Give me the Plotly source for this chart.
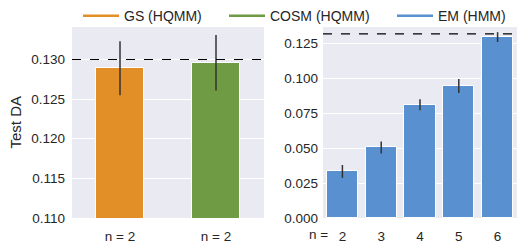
import plotly.graph_objects as go

# ---- data ----
left_labels = ["n = 2", "n = 2"]
left_methods = ["GS (HQMM)", "COSM (HQMM)"]
left_values = [0.1289, 0.1296]
left_errors = [0.0034, 0.0035]

right_labels = ["2", "3", "4", "5", "6"]
right_method = "EM (HMM)"
right_values = [0.0333, 0.0505, 0.0810, 0.0944, 0.1294]
right_errors = [0.0046, 0.0043, 0.0040, 0.0050, 0.0035]

reference_lines = [0.1300, 0.1317]  # dashed line per panel

left_ticks = [0.110, 0.115, 0.120, 0.125, 0.130]
right_ticks = [0.000, 0.025, 0.050, 0.075, 0.100, 0.125]

# ---- style ----
ORANGE = "#E28F28"
GREEN = "#709B45"
BLUE = "#5990D0"
BG = "#EAEAF2"
TXT = "#262626"
FONT = "Liberation Sans, Arial, sans-serif"

fig = go.Figure()

left_colors = [ORANGE, GREEN]
fig.add_trace(go.Bar(
    x=list(range(len(left_values))), y=left_values,
    marker=dict(color=left_colors, line=dict(color="white", width=1)),
    error_y=dict(type="data", array=left_errors, color="#333333", thickness=1.5, width=0),
    width=0.5, showlegend=False, xaxis="x", yaxis="y",
))
fig.add_trace(go.Bar(
    x=list(range(len(right_values))), y=right_values,
    marker=dict(color=BLUE, line=dict(color="white", width=1)),
    error_y=dict(type="data", array=right_errors, color="#333333", thickness=1.5, width=0),
    width=0.8, showlegend=False, xaxis="x2", yaxis="y2",
))

# legend-only line entries
legend_items = [(left_methods[0], ORANGE, "legend"),
                (left_methods[1], GREEN, "legend2"),
                (right_method, BLUE, "legend3")]
for name, col, lg in legend_items:
    fig.add_trace(go.Scatter(x=[None], y=[None], mode="lines", name=name,
                             line=dict(color=col, width=2.5), legend=lg,
                             xaxis="x", yaxis="y"))

# dashed reference lines
for yref, val in zip(["y", "y2"], reference_lines):
    xr = "x domain" if yref == "y" else "x2 domain"
    fig.add_shape(type="line", xref=xr, yref=yref, x0=0, x1=1, y0=val, y1=val,
                  line=dict(color="black", width=1.2, dash="dash"))

W, H = 517, 243
ml, mr, mt, mb = 72, 0, 25, 25
pw = W - ml - mr
ph = H - mt - mb

def px(xpix):
    return (xpix - ml) / pw

legend_common = dict(orientation="h", yanchor="middle", y=1 + 11 / ph,
                     xanchor="left", bgcolor="rgba(0,0,0,0)", itemwidth=36,
                     font=dict(size=14, color=TXT, family=FONT))

axis_common = dict(showgrid=True, gridcolor="white", gridwidth=1, zeroline=False,
                   showline=False, ticks="", tickfont=dict(size=13.5, color=TXT, family=FONT))

fig.update_layout(
    width=W, height=H,
    margin=dict(l=ml, r=mr, t=mt, b=mb),
    paper_bgcolor="white", plot_bgcolor=BG,
    font=dict(family=FONT, color=TXT),
    bargap=0,
    xaxis=dict(domain=[0, px(264)], range=[-0.5, 1.5],
               tickmode="array", tickvals=list(range(len(left_labels))), ticktext=left_labels,
               showgrid=False, zeroline=False, ticks="",
               tickfont=dict(size=13.5, color=TXT, family=FONT), ticklabelstandoff=8),
    yaxis=dict(range=[0.110, 0.1341], tickmode="array", tickvals=left_ticks,
               tickformat=".3f", ticklabelstandoff=6, **axis_common),
    xaxis2=dict(domain=[px(323), 1], range=[-0.5, 4.5], anchor="y2",
                tickmode="array", tickvals=list(range(len(right_labels))), ticktext=right_labels,
                showgrid=False, zeroline=False, ticks="",
                tickfont=dict(size=13.5, color=TXT, family=FONT), ticklabelstandoff=8),
    yaxis2=dict(range=[0.0, 0.1366], anchor="x2", tickmode="array", tickvals=right_ticks,
                tickformat=".3f", ticklabelstandoff=4, **axis_common),
    legend=dict(x=px(78), **legend_common),
    legend2=dict(x=px(224), **legend_common),
    legend3=dict(x=px(392), **legend_common),
    annotations=[
        dict(text="Test DA", xref="paper", yref="paper", x=px(15), y=0.5,
             textangle=-90, showarrow=False, xanchor="center", yanchor="middle",
             font=dict(size=15, color=TXT, family=FONT)),
        dict(text="n =", xref="paper", yref="paper", x=px(318), y=-(235 - (H - mb)) / ph,
             showarrow=False, xanchor="center", yanchor="middle",
             font=dict(size=13.5, color=TXT, family=FONT)),
    ],
)

fig.write_html("out.html", config={"displayModeBar": False},
               post_script="document.body.style.margin='0';document.body.style.overflow='hidden';")
